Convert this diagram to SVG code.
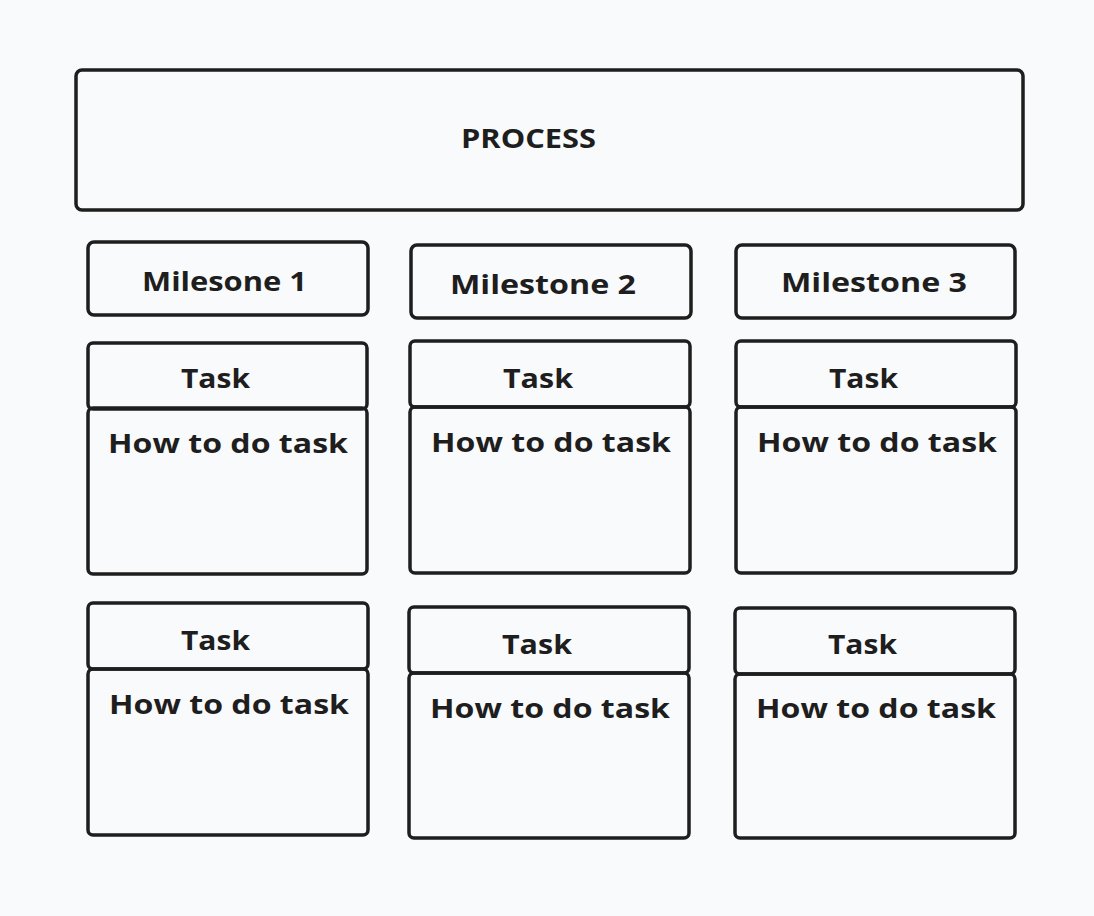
<svg xmlns="http://www.w3.org/2000/svg" width="1094" height="916" viewBox="0 0 1094 916">
<style>
.b{fill:none;stroke:#1e1e1e;stroke-width:3.5;stroke-linejoin:round}
.t{font-family:"Open Sans","Liberation Sans",sans-serif;font-weight:700;fill:#1e1e1e;font-size:27px}
</style>
<rect width="1094" height="916" fill="#f9fafc"/>
<g id="process">
<rect class="b" x="76" y="70" width="947" height="140" rx="6"/>
<text class="t" x="461" y="148" textLength="135" lengthAdjust="spacingAndGlyphs">PROCESS</text>
</g>
<g id="milestone1">
<rect class="b" x="88" y="242" width="280" height="73" rx="6"/>
<text class="t" x="142" y="291" textLength="165" lengthAdjust="spacingAndGlyphs">Milesone 1</text>
</g>
<g id="milestone2">
<rect class="b" x="411" y="245" width="280" height="73" rx="6"/>
<text class="t" x="450" y="294" textLength="186" lengthAdjust="spacingAndGlyphs">Milestone 2</text>
</g>
<g id="milestone3">
<rect class="b" x="736" y="245" width="279" height="73" rx="6"/>
<text class="t" x="781" y="292" textLength="186" lengthAdjust="spacingAndGlyphs">Milestone 3</text>
</g>
<g id="task1">
<rect class="b" x="88" y="343" width="279" height="66" rx="5"/>
<rect class="b" x="88" y="408" width="279" height="166" rx="5"/>
<text class="t" x="181" y="388" textLength="69" lengthAdjust="spacingAndGlyphs">Task</text>
<text class="t" x="108" y="453" textLength="240" lengthAdjust="spacingAndGlyphs">How to do task</text>
</g>
<g id="task2">
<rect class="b" x="410" y="341" width="280" height="66" rx="5"/>
<rect class="b" x="410" y="407" width="280" height="166" rx="5"/>
<text class="t" x="503" y="388" textLength="70" lengthAdjust="spacingAndGlyphs">Task</text>
<text class="t" x="431" y="452" textLength="240" lengthAdjust="spacingAndGlyphs">How to do task</text>
</g>
<g id="task3">
<rect class="b" x="736" y="341" width="280" height="66" rx="5"/>
<rect class="b" x="736" y="407" width="280" height="166" rx="5"/>
<text class="t" x="829" y="388" textLength="69" lengthAdjust="spacingAndGlyphs">Task</text>
<text class="t" x="757" y="452" textLength="240" lengthAdjust="spacingAndGlyphs">How to do task</text>
</g>
<g id="task4">
<rect class="b" x="88" y="603" width="280" height="66" rx="5"/>
<rect class="b" x="88" y="669" width="280" height="166" rx="5"/>
<text class="t" x="181" y="650" textLength="69" lengthAdjust="spacingAndGlyphs">Task</text>
<text class="t" x="109" y="714" textLength="240" lengthAdjust="spacingAndGlyphs">How to do task</text>
</g>
<g id="task5">
<rect class="b" x="409" y="607" width="280" height="66" rx="5"/>
<rect class="b" x="409" y="673" width="280" height="165" rx="5"/>
<text class="t" x="502" y="654" textLength="70" lengthAdjust="spacingAndGlyphs">Task</text>
<text class="t" x="430" y="718" textLength="240" lengthAdjust="spacingAndGlyphs">How to do task</text>
</g>
<g id="task6">
<rect class="b" x="735" y="608" width="280" height="66" rx="5"/>
<rect class="b" x="735" y="674" width="280" height="164" rx="5"/>
<text class="t" x="828" y="654" textLength="69" lengthAdjust="spacingAndGlyphs">Task</text>
<text class="t" x="756" y="718" textLength="240" lengthAdjust="spacingAndGlyphs">How to do task</text>
</g>
<g id="connectors"/>
</svg>
